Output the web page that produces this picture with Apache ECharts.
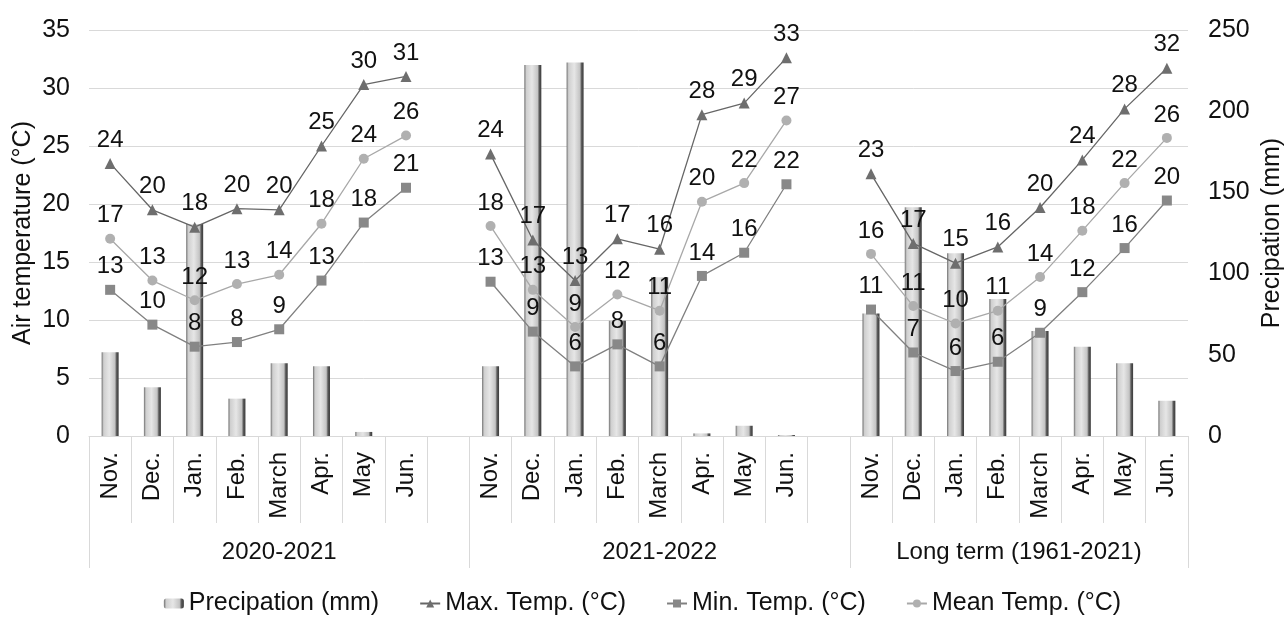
<!DOCTYPE html>
<html>
<head>
<meta charset="utf-8">
<script src="https://cdn.jsdelivr.net/npm/echarts@6/dist/echarts.min.js"></script>
<style>
  html, body { margin: 0; padding: 0; background: #ffffff; }
  #chart { width: 1285px; height: 617px; }
</style>
</head>
<body>
<div id="chart"></div>
<script>
// Month and period labels
const months = ['Nov.', 'Dec.', 'Jan.', 'Feb.', 'March', 'Apr.', 'May', 'Jun.'];
const periods = ['2020-2021', '2021-2022', 'Long term (1961-2021)'];

// Monthly precipitation (mm)
const precip2021 = [51.5, 30, 130.5, 23, 44.8, 43, 2.5, 0];
const precip2122 = [43, 228.5, 230, 71, 97.7, 1.6, 6.3, 0.6];
const precipLong = [75.5, 140.8, 112.5, 84.4, 64.7, 55, 44.8, 21.7];

// Maximum air temperature (°C)
const max2021 = [23.5, 19.5, 18.0, 19.6, 19.5, 25.0, 30.3, 31.0];
const max2122 = [24.3, 16.9, 13.4, 17.0, 16.1, 27.7, 28.7, 32.6];
const maxLong = [22.6, 16.6, 14.9, 16.3, 19.7, 23.8, 28.2, 31.7];

// Minimum air temperature (°C)
const min2021 = [12.6, 9.6, 7.7, 8.1, 9.2, 13.4, 18.4, 21.4];
const min2122 = [13.3, 9.0, 6.0, 7.9, 6.0, 13.8, 15.8, 21.7];
const minLong = [10.9, 7.2, 5.6, 6.4, 8.9, 12.4, 16.2, 20.3];

// Mean air temperature (°C)
const mean2021 = [17.0, 13.4, 11.7, 13.1, 13.9, 18.3, 23.9, 25.9];
const mean2122 = [18.1, 12.6, 9.4, 12.2, 10.8, 20.2, 21.8, 27.2];
const meanLong = [15.7, 11.2, 9.7, 10.8, 13.7, 17.7, 21.8, 25.7];

// Axis ticks
const tempTicks = { min: 0, max: 35, interval: 5 };
const precipTicks = { min: 0, max: 250, interval: 50 };

// The three periods sit side by side on one category axis, with an empty slot after the first two
const joinPeriods = (a, b, c) => [...a, null, ...b, null, ...c];
const categories = [...months, '', ...months, '', ...months];
const groupStarts = [0, months.length + 1, 2 * (months.length + 1)];
const groupLengths = [months.length + 1, months.length + 1, months.length];

// Half-slot axis used to place the period names and the long separators
const halfSlots = categories.length * 2 + 1;
const periodAxis = new Array(halfSlots).fill('');
const periodCenters = groupStarts.map((s, i) => 2 * s + groupLengths[i]);
periodCenters.forEach((c, i) => { periodAxis[c] = periods[i]; });
const periodEdges = [...groupStarts.map(s => 2 * s), 2 * categories.length];

const FONT = '"Liberation Sans", Arial, sans-serif';
const TEXT = '#111111';
const GRID = '#d9d9d9';

const barFill = new echarts.graphic.LinearGradient(0, 0, 1, 0, [
  { offset: 0, color: '#6f6f6f' },
  { offset: 0.12, color: '#cfcfcf' },
  { offset: 0.45, color: '#e6e6e6' },
  { offset: 0.78, color: '#c4c4c4' },
  { offset: 0.88, color: '#5a5a5a' },
  { offset: 1, color: '#3a3a3a' }
]);

const valueLabel = {
  show: true,
  position: 'top',
  distance: 6,
  fontFamily: FONT,
  fontSize: 24,
  color: TEXT,
  formatter: p => Math.round(p.value).toString()
};

function tempLine(name, data, symbol, size, lineColor, markColor) {
  return {
    name, type: 'line', data, yAxisIndex: 0, xAxisIndex: 0,
    symbol, symbolSize: size, showAllSymbol: true,
    lineStyle: { color: lineColor, width: 1.3 },
    itemStyle: { color: markColor },
    label: valueLabel,
    z: 3
  };
}

const chart = echarts.init(document.getElementById('chart'), null, { renderer: 'canvas' });

chart.setOption({
  animation: false,
  backgroundColor: '#ffffff',
  textStyle: { fontFamily: FONT },
  grid: { left: 89, right: 97, top: 30, bottom: 181, containLabel: false, outerBoundsMode: 'none' },
  legend: {
    top: 586,
    left: 'center',
    itemWidth: 20,
    itemHeight: 10,
    itemGap: 40,
    textStyle: { fontFamily: FONT, fontSize: 25, color: TEXT },
    data: ['Precipation (mm)', 'Max. Temp. (°C)', 'Min. Temp. (°C)', 'Mean Temp. (°C)']
  },
  xAxis: [
    {
      type: 'category',
      data: categories,
      boundaryGap: true,
      axisLine: { show: true, lineStyle: { color: GRID, width: 1 } },
      axisTick: { show: true, interval: 0, length: 87, lineStyle: { color: GRID, width: 1 } },
      axisLabel: {
        interval: 0, rotate: 90, margin: 16,
        fontFamily: FONT, fontSize: 24, color: TEXT
      },
      splitLine: { show: false }
    },
    {
      type: 'category',
      data: periodAxis,
      boundaryGap: false,
      position: 'bottom',
      axisLine: { show: false },
      axisTick: {
        show: true, length: 132,
        interval: (i) => periodEdges.includes(i),
        lineStyle: { color: GRID, width: 1 }
      },
      axisLabel: {
        interval: (i) => periodCenters.includes(i),
        margin: 104,
        fontFamily: FONT, fontSize: 24, color: TEXT
      },
      splitLine: { show: false }
    }
  ],
  yAxis: [
    {
      type: 'value',
      position: 'left',
      min: tempTicks.min, max: tempTicks.max, interval: tempTicks.interval,
      name: 'Air temperature (°C)',
      nameLocation: 'middle',
      nameGap: 53,
      nameMoveOverlap: false,
      nameTextStyle: { fontFamily: FONT, fontSize: 25, color: TEXT },
      axisLine: { show: false },
      axisTick: { show: false },
      axisLabel: { margin: 19, fontFamily: FONT, fontSize: 25, color: TEXT },
      splitLine: { show: true, lineStyle: { color: GRID, width: 1 } }
    },
    {
      type: 'value',
      position: 'right',
      min: precipTicks.min, max: precipTicks.max, interval: precipTicks.interval,
      name: 'Precipation (mm)',
      nameLocation: 'middle',
      nameGap: 72,
      nameMoveOverlap: false,
      nameTextStyle: { fontFamily: FONT, fontSize: 25, color: TEXT },
      axisLine: { show: false },
      axisTick: { show: false },
      axisLabel: { margin: 20, fontFamily: FONT, fontSize: 25, color: TEXT },
      splitLine: { show: false }
    }
  ],
  series: [
    {
      name: 'Precipation (mm)',
      type: 'bar',
      xAxisIndex: 0,
      yAxisIndex: 1,
      barWidth: 17,
      data: joinPeriods(precip2021, precip2122, precipLong),
      itemStyle: { color: barFill },
      z: 1
    },
    tempLine('Max. Temp. (°C)', joinPeriods(max2021, max2122, maxLong), 'triangle', 11, '#666666', '#6e6e6e'),
    tempLine('Min. Temp. (°C)', joinPeriods(min2021, min2122, minLong), 'rect', 10, '#808080', '#888888'),
    tempLine('Mean Temp. (°C)', joinPeriods(mean2021, mean2122, meanLong), 'circle', 10, '#a8a8a8', '#b0b0b0')
  ]
});
</script>
</body>
</html>
